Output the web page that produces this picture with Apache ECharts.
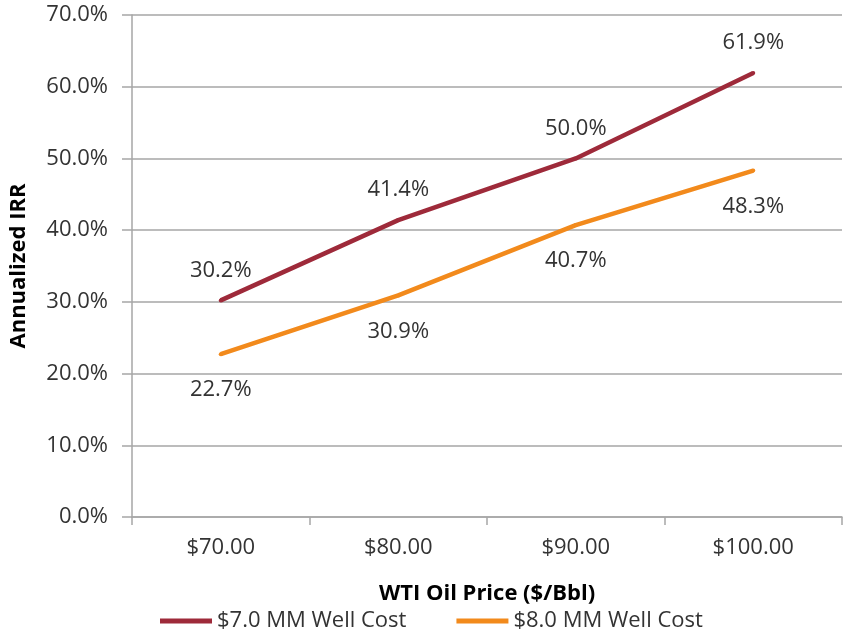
<!DOCTYPE html>
<html>
<head>
<meta charset="utf-8">
<script src="https://cdn.jsdelivr.net/npm/echarts@6/dist/echarts.min.js"></script>
<style>
  html, body { margin: 0; padding: 0; background: #fff; }
  #chart { width: 846px; height: 633px; }
</style>
</head>
<body>
<div id="chart"></div>
<script>
// WTI oil price scenarios and annualized IRR for two well-cost cases
const categories = ['$70.00', '$80.00', '$90.00', '$100.00'];
const cost7Values = [30.2, 41.4, 50.0, 61.9];
const cost8Values = [22.7, 30.9, 40.7, 48.3];
const seriesNames = ['$7.0 MM Well Cost', '$8.0 MM Well Cost'];

const FONT = 'Open Sans';
const FS = 22;
const TEXT = '#333333';
const GRID = '#a6a6a6';
const RED = '#9e2a3a';
const ORANGE = '#f28a1c';

const pct = v => v.toFixed(1) + '%';

const chart = echarts.init(document.getElementById('chart'));
chart.setOption({
  animation: false,
  grid: { left: 129, right: 4, top: 15, bottom: 116, containLabel: false },
  legend: {
    top: 605,
    left: 155,
    itemWidth: 52,
    itemHeight: 5,
    itemGap: 50,
    icon: 'rect',
    textStyle: { fontFamily: FONT, fontSize: FS, color: TEXT },
    data: seriesNames
  },
  xAxis: {
    type: 'category',
    data: categories,
    boundaryGap: true,
    name: 'WTI Oil Price ($/Bbl)',
    nameLocation: 'middle',
    nameGap: 66,
    nameTextStyle: { fontFamily: FONT, fontSize: FS, fontWeight: 'bold', color: '#000' },
    axisLine: { lineStyle: { color: GRID, width: 1.5 } },
    axisTick: { show: true, length: 8, lineStyle: { color: GRID, width: 1.5 } },
    axisLabel: { fontFamily: FONT, fontSize: FS, color: TEXT, margin: 20 }
  },
  yAxis: {
    type: 'value',
    min: 0,
    max: 70,
    interval: 10,
    name: 'Annualized IRR',
    nameLocation: 'middle',
    nameGap: 102,
    nameTextStyle: { fontFamily: FONT, fontSize: FS, fontWeight: 'bold', color: '#000' },
    axisLine: { show: true, lineStyle: { color: GRID, width: 1.5 } },
    axisTick: { show: true, length: 10, lineStyle: { color: GRID, width: 1.5 } },
    splitLine: { lineStyle: { color: GRID, width: 1.5 } },
    axisLabel: { fontFamily: FONT, fontSize: FS, color: TEXT, margin: 24, formatter: pct }
  },
  series: [
    {
      name: seriesNames[0],
      type: 'line',
      data: cost7Values,
      symbol: 'circle',
      symbolSize: 4,
      showSymbol: true,
      itemStyle: { color: RED },
      lineStyle: { width: 4.5, color: RED },
      label: {
        show: true, position: 'top', distance: 17,
        fontFamily: FONT, fontSize: FS, color: TEXT,
        formatter: p => pct(p.value)
      }
    },
    {
      name: seriesNames[1],
      type: 'line',
      data: cost8Values,
      symbol: 'circle',
      symbolSize: 4,
      showSymbol: true,
      itemStyle: { color: ORANGE },
      lineStyle: { width: 4.5, color: ORANGE },
      label: {
        show: true, position: 'bottom', distance: 23,
        fontFamily: FONT, fontSize: FS, color: TEXT,
        formatter: p => pct(p.value)
      }
    }
  ]
});
</script>
</body>
</html>
